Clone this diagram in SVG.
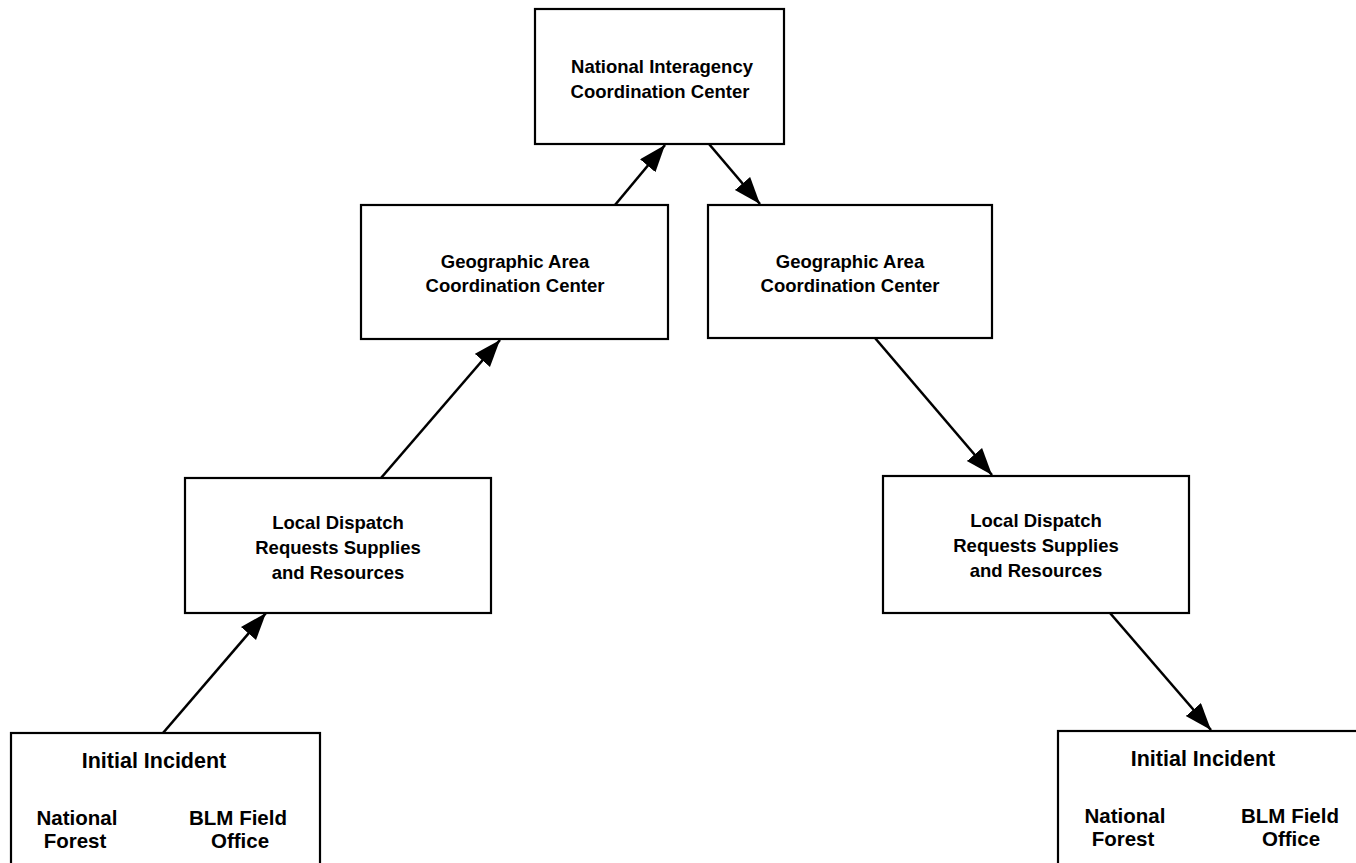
<svg xmlns="http://www.w3.org/2000/svg" width="1356" height="863" viewBox="0 0 1356 863">
<defs>
<marker id="ah" markerUnits="userSpaceOnUse" markerWidth="30" markerHeight="22" refX="27" refY="10" orient="auto">
<path d="M0,0 L27,10 L0,20 Z" fill="#000"/>
</marker>
<style>
.box{fill:#fff;stroke:#000;stroke-width:2.2}
.t{font-family:"Liberation Sans",Arial,sans-serif;font-weight:bold;font-size:18.5px;text-anchor:middle;fill:#000}
.b{font-size:20.5px}
.h{font-size:21.5px}
.c{stroke:#000;stroke-width:2.6;fill:none;marker-end:url(#ah)}
</style>
</defs>
<rect width="1356" height="863" fill="#fff"/>
<g id="nicc">
<rect class="box" x="535" y="9" width="249" height="135"/>
<text class="t" x="662" y="73">National Interagency</text>
<text class="t" x="660" y="98">Coordination Center</text>
</g>
<g id="gacc-left">
<rect class="box" x="361" y="205" width="307" height="134"/>
<text class="t" x="515" y="268">Geographic Area</text>
<text class="t" x="515" y="292">Coordination Center</text>
</g>
<g id="gacc-right">
<rect class="box" x="708" y="205" width="284" height="133"/>
<text class="t" x="850" y="268">Geographic Area</text>
<text class="t" x="850" y="292">Coordination Center</text>
</g>
<g id="local-left">
<rect class="box" x="185" y="478" width="306" height="135"/>
<text class="t" x="338" y="529">Local Dispatch</text>
<text class="t" x="338" y="554">Requests Supplies</text>
<text class="t" x="338" y="579">and Resources</text>
</g>
<g id="local-right">
<rect class="box" x="883" y="476" width="306" height="137"/>
<text class="t" x="1036" y="527">Local Dispatch</text>
<text class="t" x="1036" y="552">Requests Supplies</text>
<text class="t" x="1036" y="577">and Resources</text>
</g>
<g id="incident-left">
<rect class="box" x="11" y="733" width="309" height="140"/>
<text class="t h" x="154" y="768">Initial Incident</text>
<text class="t b" x="77" y="825">National</text>
<text class="t b" x="75" y="848">Forest</text>
<text class="t b" x="238" y="825">BLM Field</text>
<text class="t b" x="240" y="848">Office</text>
</g>
<g id="incident-right">
<rect class="box" x="1058" y="731" width="320" height="142"/>
<text class="t h" x="1203" y="766">Initial Incident</text>
<text class="t b" x="1125" y="823">National</text>
<text class="t b" x="1123" y="846">Forest</text>
<text class="t b" x="1290" y="823">BLM Field</text>
<text class="t b" x="1291" y="846">Office</text>
</g>
<g id="connectors">
<line class="c" x1="163" y1="733" x2="266" y2="613"/>
<line class="c" x1="381" y1="478" x2="500" y2="340"/>
<line class="c" x1="615" y1="205" x2="665" y2="145"/>
<line class="c" x1="709" y1="144" x2="760" y2="204"/>
<line class="c" x1="875" y1="338" x2="992" y2="475"/>
<line class="c" x1="1110" y1="613" x2="1211" y2="730"/>
</g>
</svg>
